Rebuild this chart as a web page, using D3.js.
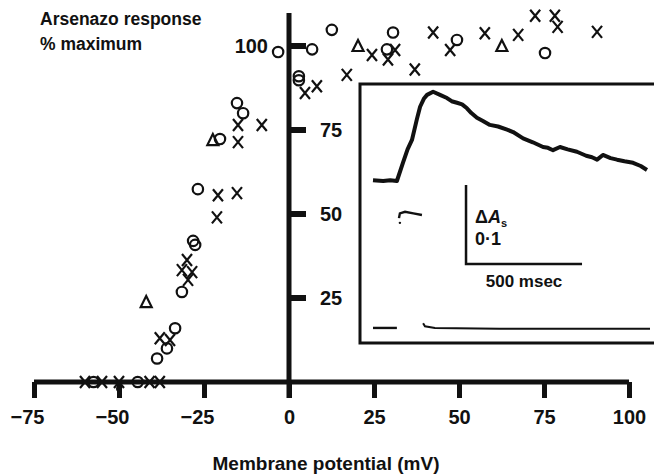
<!DOCTYPE html>
<html><head><meta charset="utf-8">
<script src="https://cdn.jsdelivr.net/npm/d3@7"></script>
<style>
html,body{margin:0;padding:0;background:#fff;}
svg text{font-family:"Liberation Sans",Arial,sans-serif;fill:#111;}
</style></head>
<body>
<svg id="c" width="654" height="474"></svg>
<script>
// ---- data (membrane potential mV, % maximum) ----
const xTicks = [-75,-50,-25,0,25,50,75,100];
const yTicks = [25,50,75,100];
const circles = [
  [12.6,104.8],[6.8,99],[28.8,99],[30.6,104],[49.4,101.8],[75.3,97.9],[-3.2,98.2],
  [2.9,91],[2.9,89.8],[-15.3,83],[-13.5,80],[-20.3,72.3],[-26.8,57.4],
  [-28.2,42],[-27.6,40.8],[-31.5,26.8],[-33.5,16],[-35.9,10],[-38.8,7],
  [-57.5,0],[-44.5,0]
];
const crosses = [
  [24.4,97.3],[31.2,98.8],[29.1,96],[42.4,104],[37,93],[47.4,98.8],[57.6,103.8],
  [67.4,103.3],[72.4,109],[78.2,109],[79,105.7],[90.6,104.2],[17,91.4],
  [4.7,86],[8.2,88],[-15,76.5],[-15,71.4],[-8,76.5],[-20.9,55.6],[-15.3,56.2],[-21.2,49],
  [-30,36.3],[-31.5,33.3],[-28.5,32.7],[-29.7,30.4],[-38,13],[-35,12.5],
  [-60,0],[-55,0],[-50,0],[-41,0],[-38,0]
];
const triangles = [[20.3,100],[62.6,100],[-22.4,72],[-42,23.8]];
const dots = [[-50,-2]];

// ---- inset traces (time msec, absorbance change) ----
const arsenazoTrace = [
  [56,0.001],[100,0.0],[130,0.001],[159,0],[185,0.023],[205,0.040],[224,0.052],[245,0.078],[259,0.094],
  [275,0.104],[289,0.109],[315,0.113],[345,0.109],[375,0.105],[395,0.101],[418,0.099],[440,0.097],
  [461,0.092],[480,0.086],[504,0.080],[530,0.076],[560,0.071],[595,0.069],[634,0.065],[660,0.062],
  [703,0.054],[745,0.049],[789,0.043],[810,0.042],[832,0.039],[862,0.043],[895,0.040],[935,0.037],
  [975,0.032],[1000,0.030],[1022,0.027],[1047,0.033],[1080,0.029],[1108,0.027],[1140,0.025],
  [1177,0.023],[1210,0.019],[1237,0.014]
];
const stimTrace = [[168,-0.047],[172,-0.041],[194,-0.039],[230,-0.041],[267,-0.043]];
const currentTraceA = [[56,-0.186],[159,-0.186]];
const currentTraceB = [[272,-0.180],[280,-0.184],[323,-0.186],[600,-0.187],[1250,-0.187]];
const scaleBarT = 500, scaleBarA = 0.1;

// ---- main scales ----
const svg = d3.select("#c");
const x = d3.scaleLinear().domain([-75,100]).range([34,629]);
const y = d3.scaleLinear().domain([0,100]).range([382,46]);

// x axis
const gx = svg.append("g").attr("transform","translate(0,382)");
const xAx = d3.axisBottom(x).tickValues(xTicks).tickSize(16).tickPadding(9)
  .tickFormat(d=> d<0 ? "\u2212"+Math.abs(d) : d);
gx.call(xAx);
gx.select(".domain").attr("d",`M${x(-75)},0H${x(100)}`).attr("stroke","#111").attr("stroke-width",5);
gx.selectAll(".tick line").attr("stroke","#111").attr("stroke-width",5).attr("stroke-linecap","butt");
gx.selectAll(".tick text").attr("font-size",20).attr("font-weight","bold").attr("fill","#111").attr("dy","0.85em")
  .attr("dx",d=> d<0 ? -7 : 0);

// y axis (at x=0)
const gy = svg.append("g").attr("transform",`translate(${x(0)},0)`);
gy.append("line").attr("x1",0).attr("x2",0).attr("y1",13).attr("y2",398)
  .attr("stroke","#111").attr("stroke-width",5);
gy.selectAll(".yt").data(yTicks).join("line")
  .attr("x1",0).attr("x2",17).attr("y1",d=>y(d)).attr("y2",d=>y(d))
  .attr("stroke","#111").attr("stroke-width",6);
gy.selectAll(".yl").data(yTicks).join("text")
  .attr("x",d=> d===100 ? -21 : 31).attr("y",d=>y(d)).attr("dy","0.36em")
  .attr("text-anchor",d=> d===100 ? "end" : "start")
  .attr("font-size",20).attr("font-weight","bold").text(d=>d);

// titles
svg.append("text").attr("x",40).attr("y",25).attr("font-size",17.5).attr("font-weight","bold").text("Arsenazo response");
svg.append("text").attr("x",40).attr("y",50).attr("font-size",17.5).attr("font-weight","bold").text("% maximum");
svg.append("text").attr("x",326).attr("y",470).attr("text-anchor","middle").attr("font-size",19).attr("font-weight","bold").text("Membrane potential (mV)");

// ---- inset ----
const ix = d3.scaleLinear().domain([0,1000]).range([360,592]);
const iy = d3.scaleLinear().domain([0,0.1]).range([181,102]);
const inset = svg.append("g");
inset.append("path").attr("d",`M${ix(1300)},84H360V343H${ix(1300)}`)
  .attr("fill","none").attr("stroke","#111").attr("stroke-width",3);
const line = d3.line().x(d=>ix(d[0])).y(d=>iy(d[1]));
inset.append("path").datum(arsenazoTrace).attr("d",line).attr("fill","none").attr("stroke","#111").attr("stroke-width",4).attr("stroke-linejoin","round");
inset.append("path").datum(stimTrace).attr("d",line).attr("fill","none").attr("stroke","#111").attr("stroke-width",2.4);
inset.append("circle").attr("cx",ix(172)).attr("cy",iy(-0.053)).attr("r",1.2).attr("fill","#111");
inset.append("path").datum(currentTraceA).attr("d",line).attr("fill","none").attr("stroke","#111").attr("stroke-width",2.4);
inset.append("path").datum(currentTraceB).attr("d",line).attr("fill","none").attr("stroke","#111").attr("stroke-width",2);
// scale bar
const sb0 = [457,-0.005];
inset.append("path").attr("d",`M${ix(sb0[0])},${iy(sb0[1])}V${iy(sb0[1]-scaleBarA)}H${ix(sb0[0]+scaleBarT)}`)
  .attr("fill","none").attr("stroke","#111").attr("stroke-width",2.5);
const dA = inset.append("text").attr("x",ix(sb0[0])+9).attr("y",223).attr("font-size",18).attr("font-weight","bold");
dA.append("tspan").text("\u0394");
dA.append("tspan").attr("font-style","italic").text("A");
dA.append("tspan").attr("font-size",11).attr("dy",4).text("s");
inset.append("text").attr("x",ix(sb0[0])+9).attr("y",245).attr("font-size",18).attr("font-weight","bold").text("0\u00b71");
inset.append("text").attr("x",ix(sb0[0]+scaleBarT/2)).attr("y",287).attr("text-anchor","middle").attr("font-size",17).attr("font-weight","bold").text("500 msec");

// ---- markers ----
const mk = svg.append("g").attr("fill","none").attr("stroke","#111").attr("stroke-width",2.2);
mk.selectAll(".c").data(circles).join("circle").attr("cx",d=>x(d[0])).attr("cy",d=>y(d[1])).attr("r",5.2);
mk.selectAll(".x").data(crosses).join("path")
  .attr("d",d=>{const cx=x(d[0]),cy=y(d[1]),w=5,h=6;return `M${cx-w},${cy-h}L${cx+w},${cy+h}M${cx+w},${cy-h}L${cx-w},${cy+h}`;});
mk.selectAll(".t").data(triangles).join("path")
  .attr("d",d=>{const cx=x(d[0]),cy=y(d[1]);return `M${cx},${cy-6}L${cx+5.5},${cy+5}L${cx-5.5},${cy+5}Z`;});
svg.selectAll(".d").data(dots).join("circle").attr("cx",d=>x(d[0])).attr("cy",d=>y(d[1])).attr("r",3).attr("fill","#111");
</script>
</body></html>
